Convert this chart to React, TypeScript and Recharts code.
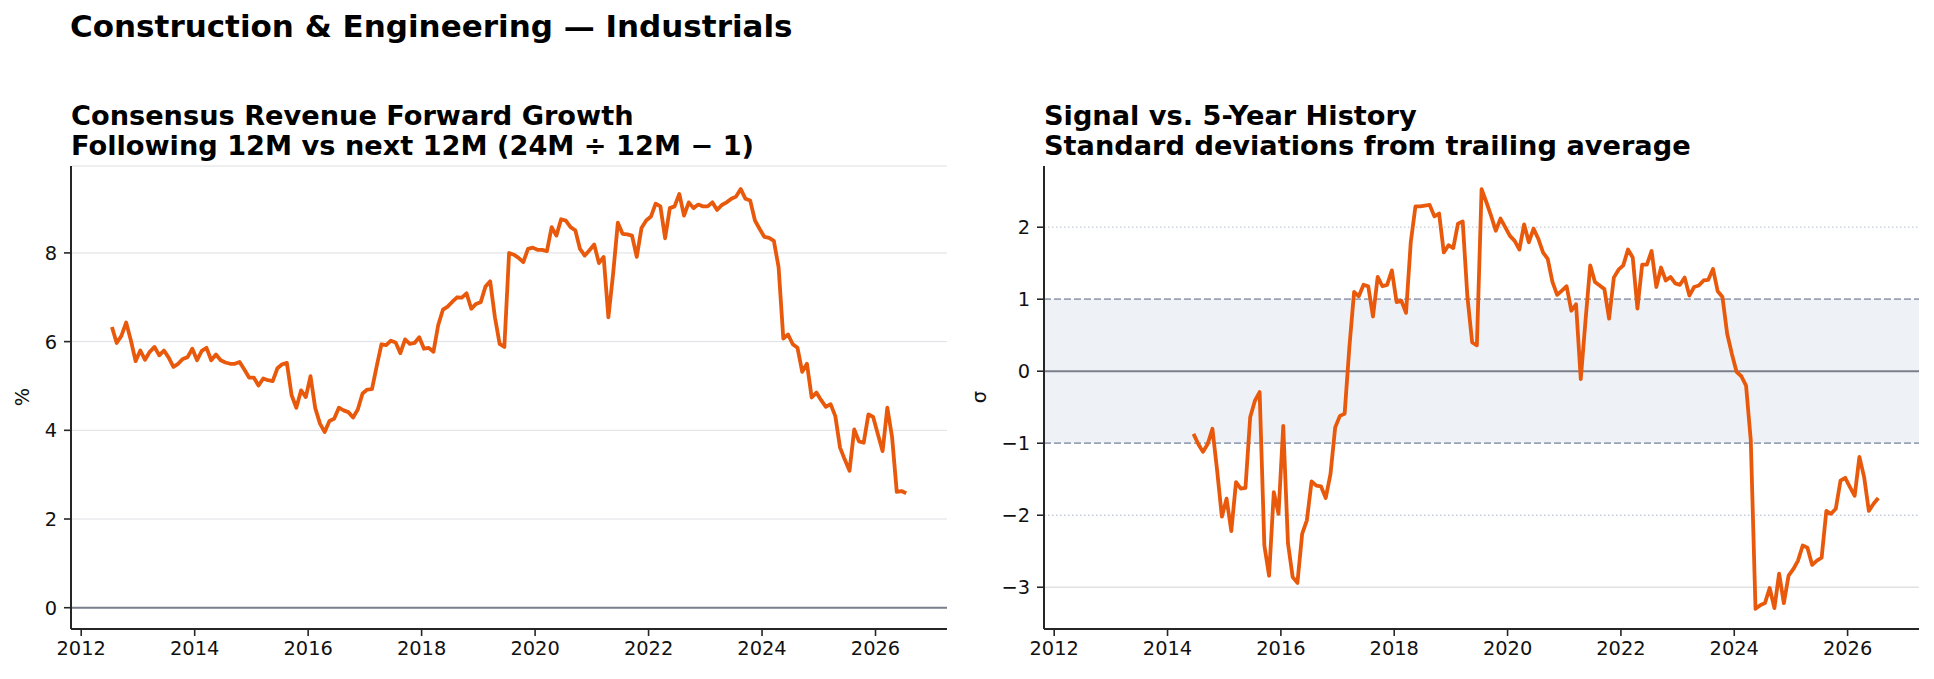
import React from "react";
import {
  LineChart,
  Line,
  XAxis,
  YAxis,
  CartesianGrid,
  ReferenceLine,
  ReferenceArea,
} from "recharts";

const ORANGE = "#e8590c";
const AXIS = "#262626";
const FONT = "'DejaVu Sans', sans-serif";

// monthly series, first value = Jul 2012
const GROWTH_START = { year: 2012, month: 7 };
const growth = [
  6.33, 5.97, 6.13, 6.43, 6.03, 5.56, 5.8, 5.59, 5.77, 5.88, 5.69, 5.8,
  5.64, 5.43, 5.5, 5.61, 5.65, 5.84, 5.58, 5.79, 5.86, 5.58, 5.71, 5.58,
  5.53, 5.5, 5.5, 5.54, 5.37, 5.19, 5.19, 5.01, 5.17, 5.13, 5.11, 5.4,
  5.49, 5.52, 4.79, 4.51, 4.9, 4.75, 5.22, 4.5, 4.15, 3.96, 4.21, 4.26,
  4.51, 4.45, 4.41, 4.29, 4.47, 4.83, 4.92, 4.93, 5.45, 5.94, 5.92, 6.02,
  5.98, 5.74, 6.05, 5.95, 5.97, 6.1, 5.84, 5.86, 5.77, 6.37, 6.72, 6.79,
  6.9, 7.0, 6.99, 7.09, 6.74, 6.85, 6.89, 7.24, 7.36, 6.55, 5.95, 5.88,
  8.0, 7.96, 7.89, 7.79, 8.09, 8.12, 8.07, 8.07, 8.04, 8.58, 8.39, 8.76,
  8.73, 8.58, 8.51, 8.09, 7.94, 8.06, 8.19, 7.77, 7.91, 6.55, 7.53, 8.68,
  8.43, 8.42, 8.39, 7.91, 8.56, 8.73, 8.82, 9.11, 9.05, 8.33, 9.01, 9.05,
  9.33, 8.84, 9.14, 9.01, 9.09, 9.05, 9.05, 9.14, 8.97, 9.08, 9.14, 9.22,
  9.27, 9.44, 9.22, 9.18, 8.73, 8.54, 8.36, 8.34, 8.27, 7.68, 6.07, 6.16,
  5.94, 5.86, 5.32, 5.5, 4.74, 4.85, 4.68, 4.53, 4.59, 4.32, 3.61, 3.34,
  3.09, 4.02, 3.75, 3.72, 4.36, 4.3, 3.91, 3.53, 4.51, 3.85, 2.61, 2.63,
  2.58,
];

// z-score vs trailing history, first value = Jun 2014
const SIGMA_START = { year: 2014, month: 6 };
const sigma = [
  -0.87, -1.01, -1.12, -1.01, -0.8, -1.38, -2.02, -1.77, -2.22, -1.54, -1.63,
  -1.62, -0.64, -0.41, -0.29, -2.42, -2.84, -1.68, -1.98, -0.76, -2.39, -2.86,
  -2.94, -2.26, -2.07, -1.53, -1.59, -1.6, -1.76, -1.43, -0.78, -0.62, -0.59,
  0.33, 1.1, 1.04, 1.2, 1.18, 0.76, 1.31, 1.18, 1.2, 1.4, 0.96, 0.98, 0.81,
  1.79, 2.29, 2.29, 2.3, 2.31, 2.15, 2.19, 1.65, 1.75, 1.71, 2.05, 2.08, 1.03,
  0.4, 0.36, 2.53, 2.35, 2.16, 1.95, 2.12, 2.0, 1.88, 1.81, 1.69, 2.04, 1.79,
  1.98, 1.84, 1.65, 1.56, 1.24, 1.06, 1.12, 1.18, 0.84, 0.93, -0.11, 0.7,
  1.47, 1.24, 1.19, 1.14, 0.73, 1.3, 1.41, 1.47, 1.69, 1.58, 0.87, 1.48, 1.48,
  1.67, 1.17, 1.44, 1.26, 1.31, 1.22, 1.2, 1.3, 1.05, 1.17, 1.19, 1.26, 1.27,
  1.42, 1.11, 1.03, 0.52, 0.24, -0.01, -0.07, -0.2, -0.96, -3.3, -3.25, -3.22,
  -3.01, -3.29, -2.81, -3.22, -2.84, -2.75, -2.63, -2.42, -2.45, -2.69, -2.63,
  -2.59, -1.94, -1.98, -1.91, -1.52, -1.48, -1.61, -1.73, -1.19, -1.47, -1.94,
  -1.84, -1.76,
];

const yearTicks = [2012, 2014, 2016, 2018, 2020, 2022, 2024, 2026];
const growthTicks = [0, 2, 4, 6, 8];
const sigmaTicks = [-3, -2, -1, 0, 1, 2];

const X_DOMAIN = [2011.82, 2027.26];

const sigmaOffset =
  (SIGMA_START.year - GROWTH_START.year) * 12 +
  (SIGMA_START.month - GROWTH_START.month);

const data = growth.map((g, i) => {
  const m = GROWTH_START.month - 1 + i;
  const row: { t: number; growth: number; sigma?: number } = {
    t: GROWTH_START.year + (m + 0.5) / 12,
    growth: g,
  };
  const j = i - sigmaOffset;
  if (j >= 0 && j < sigma.length) row.sigma = sigma[j];
  return row;
});

const tickStyle = { fontSize: 19.4, fill: "#111", fontFamily: FONT };
const minus = (v: number) => (v < 0 ? `\u2212${Math.abs(v)}` : `${v}`);

function GrowthChart() {
  return (
    <LineChart
      width={960}
      height={679}
      data={data}
      margin={{ top: 166, right: 13, bottom: 20, left: 0 }}
    >
      <CartesianGrid horizontal vertical={false} stroke="#dedfe4" strokeWidth={1} />
      <ReferenceLine y={0} stroke="#7b7f8c" strokeWidth={2} />
      <XAxis
        dataKey="t"
        type="number"
        domain={X_DOMAIN}
        ticks={yearTicks}
        allowDataOverflow
        height={30}
        tick={tickStyle}
        tickSize={7}
        tickMargin={5}
        axisLine={{ stroke: AXIS, strokeWidth: 2 }}
        tickLine={{ stroke: AXIS, strokeWidth: 1.6 }}
      />
      <YAxis
        type="number"
        domain={[-0.48, 9.96]}
        ticks={growthTicks}
        allowDataOverflow
        width={71}
        tick={tickStyle}
        tickSize={7}
        tickMargin={7}
        axisLine={{ stroke: AXIS, strokeWidth: 2 }}
        tickLine={{ stroke: AXIS, strokeWidth: 1.6 }}
      />
      <Line
        dataKey="growth"
        type="linear"
        stroke={ORANGE}
        strokeWidth={3.8}
        strokeLinejoin="round"
        dot={false}
        isAnimationActive={false}
      />
    </LineChart>
  );
}

function SigmaChart() {
  return (
    <LineChart
      width={974}
      height={679}
      data={data}
      margin={{ top: 166, right: 15, bottom: 20, left: 0 }}
    >
      <ReferenceArea y1={-1} y2={1} fill="#eef2f7" fillOpacity={1} stroke="none" />
      <ReferenceLine y={-3} stroke="#e2e2e4" strokeWidth={1.4} />
      <ReferenceLine y={2} stroke="#c3cad6" strokeWidth={1.3} strokeDasharray="1.5 2.5" />
      <ReferenceLine y={-2} stroke="#c3cad6" strokeWidth={1.3} strokeDasharray="1.5 2.5" />
      <ReferenceLine y={1} stroke="#9aa3b5" strokeWidth={1.7} strokeDasharray="7 3" />
      <ReferenceLine y={-1} stroke="#9aa3b5" strokeWidth={1.7} strokeDasharray="7 3" />
      <ReferenceLine y={0} stroke="#7b7f8c" strokeWidth={2} />
      <XAxis
        dataKey="t"
        type="number"
        domain={X_DOMAIN}
        ticks={yearTicks}
        allowDataOverflow
        height={30}
        tick={tickStyle}
        tickSize={7}
        tickMargin={5}
        axisLine={{ stroke: AXIS, strokeWidth: 2 }}
        tickLine={{ stroke: AXIS, strokeWidth: 1.6 }}
      />
      <YAxis
        type="number"
        domain={[-3.58, 2.85]}
        ticks={sigmaTicks}
        allowDataOverflow
        width={84}
        tick={tickStyle}
        tickSize={7}
        tickMargin={7}
        tickFormatter={minus}
        axisLine={{ stroke: AXIS, strokeWidth: 2 }}
        tickLine={{ stroke: AXIS, strokeWidth: 1.6 }}
      />
      <Line
        dataKey="sigma"
        type="linear"
        stroke={ORANGE}
        strokeWidth={3.8}
        strokeLinejoin="round"
        dot={false}
        connectNulls={false}
        isAnimationActive={false}
      />
    </LineChart>
  );
}

export default function App() {
  return (
    <div
      style={{
        position: "absolute",
        left: 0,
        top: 0,
        width: 1934,
        height: 679,
        background: "#fff",
        fontFamily: FONT,
      }}
    >
      <div style={{ position: "absolute", left: 0, top: 0 }}>
        <GrowthChart />
      </div>
      <div style={{ position: "absolute", left: 960, top: 0 }}>
        <SigmaChart />
      </div>
      {/* titles and axis labels */}
      <svg
        width={1934}
        height={679}
        style={{ position: "absolute", left: 0, top: 0, pointerEvents: "none" }}
        fontFamily={FONT}
      >
        <text x={70} y={37} fontSize={31} fontWeight="bold" fill="#000">
          Construction &amp; Engineering — Industrials
        </text>
        <text x={71} y={125} fontSize={27.2} fontWeight="bold" fill="#000">
          Consensus Revenue Forward Growth
        </text>
        <text x={71} y={155} fontSize={27.2} fontWeight="bold" fill="#000">
          Following 12M vs next 12M (24M ÷ 12M − 1)
        </text>
        <text x={1044} y={125} fontSize={27.2} fontWeight="bold" fill="#000">
          Signal vs. 5-Year History
        </text>
        <text x={1044} y={155} fontSize={27.2} fontWeight="bold" fill="#000">
          Standard deviations from trailing average
        </text>
        <text
          x={29}
          y={397}
          fontSize={19.4}
          fill="#111"
          textAnchor="middle"
          transform="rotate(-90 29 397)"
        >
          %
        </text>
        <text
          x={986}
          y={397}
          fontSize={19.4}
          fill="#111"
          textAnchor="middle"
          transform="rotate(-90 986 397)"
        >
          σ
        </text>
      </svg>
    </div>
  );
}
